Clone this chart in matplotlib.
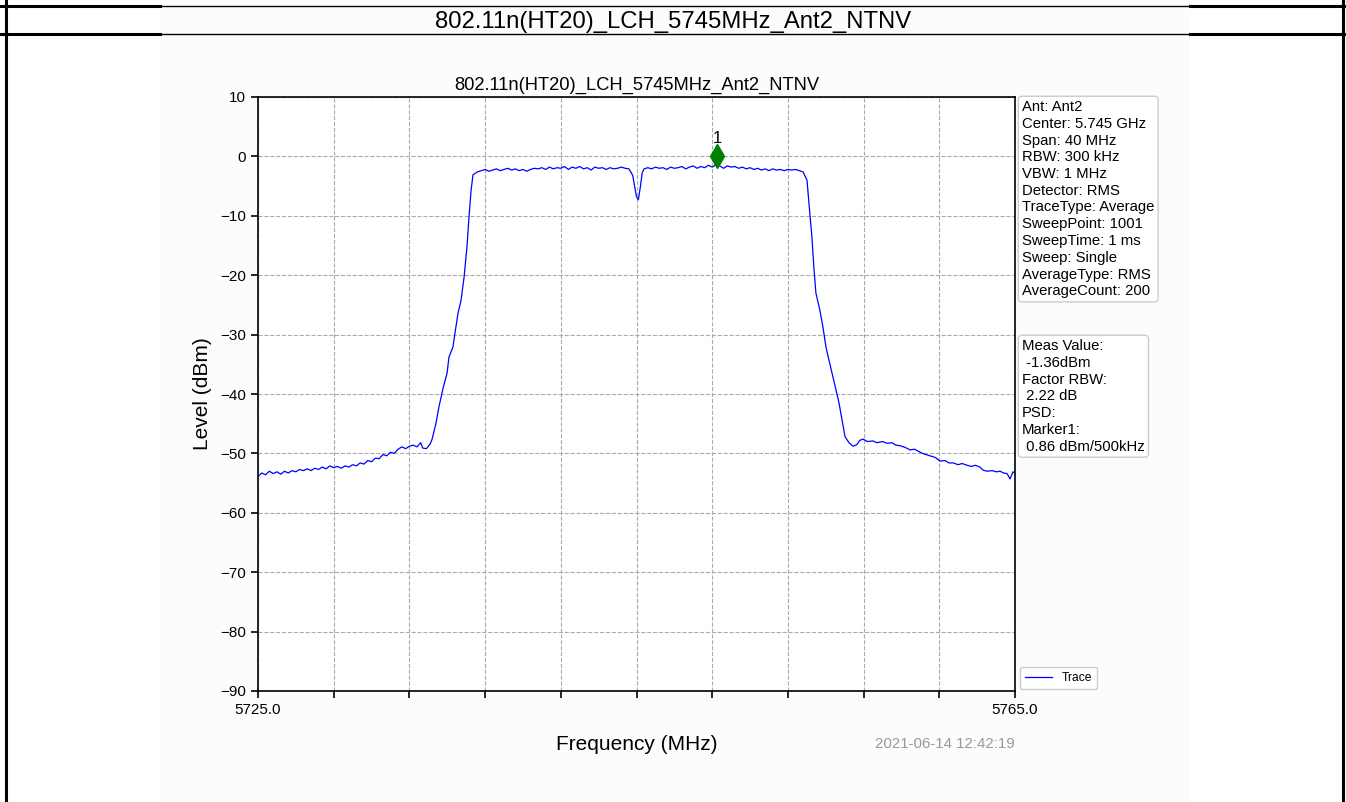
import numpy as np
import matplotlib
matplotlib.use('Agg')
import matplotlib.pyplot as plt
from matplotlib.lines import Line2D
from matplotlib.patches import Rectangle

plt.rcParams['font.family'] = ['Liberation Sans', 'DejaVu Sans']

title = '802.11n(HT20)_LCH_5745MHz_Ant2_NTNV'
timestamp = '2021-06-14 12:42:19'

# Trace (MHz, dBm)
freq = [
    5725.0, 5725.2, 5725.4, 5725.6, 5725.8, 5726.0, 5726.2, 5726.4, 5726.6, 5726.8,
    5727.0, 5727.2, 5727.4, 5727.6, 5727.8, 5728.0, 5728.2, 5728.4, 5728.6, 5728.8,
    5729.0, 5729.2, 5729.4, 5729.6, 5729.8, 5730.0, 5730.2, 5730.4, 5730.6, 5730.8,
    5731.0, 5731.2, 5731.4, 5731.6, 5731.8, 5732.0, 5732.2, 5732.4, 5732.6, 5732.8,
    5733.0, 5733.2, 5733.4, 5733.6, 5733.7, 5733.9, 5734.1, 5734.2, 5734.4, 5734.56,
    5734.78, 5734.99, 5735.09, 5735.3, 5735.41, 5735.57, 5735.73, 5735.89, 5736.04, 5736.15,
    5736.26, 5736.36, 5736.6, 5736.8,
    5737.0, 5737.2, 5737.4, 5737.6, 5737.8, 5738.0, 5738.2, 5738.4, 5738.6, 5738.8,
    5739.0, 5739.2, 5739.4, 5739.6, 5739.8, 5740.0, 5740.2, 5740.4, 5740.6, 5740.8,
    5741.0, 5741.2, 5741.4, 5741.6, 5741.8, 5742.0, 5742.2, 5742.4, 5742.6, 5742.8,
    5743.0, 5743.2, 5743.4, 5743.6, 5743.8, 5744.0, 5744.2, 5744.4, 5744.6, 5744.8,
    5744.9, 5745.0, 5745.1, 5745.2, 5745.3, 5745.4, 5745.6, 5745.8, 5746.0, 5746.2,
    5746.4, 5746.6, 5746.8, 5747.0, 5747.2, 5747.4, 5747.6, 5747.8, 5748.0, 5748.2,
    5748.4, 5748.6, 5748.8, 5749.0, 5749.2, 5749.4, 5749.6, 5749.8, 5750.0, 5750.2,
    5750.4, 5750.6, 5750.8, 5751.0, 5751.2, 5751.4, 5751.6, 5751.8, 5752.0, 5752.2,
    5752.4, 5752.6, 5752.8, 5753.0, 5753.2, 5753.4, 5753.6, 5753.8,
    5754.01, 5754.11, 5754.27, 5754.37, 5754.48, 5754.69, 5754.85, 5755.01, 5755.17, 5755.38,
    5755.54, 5755.7, 5755.86, 5756.02, 5756.23, 5756.45, 5756.65, 5756.8, 5756.97, 5757.2,
    5757.5, 5757.7, 5758.0, 5758.24, 5758.5, 5758.7, 5758.92, 5759.2, 5759.45, 5759.7,
    5759.98, 5760.2, 5760.51, 5760.8, 5761.04, 5761.3, 5761.5, 5761.73, 5762.0, 5762.2,
    5762.47, 5762.7, 5762.9, 5763.15, 5763.3, 5763.52, 5763.8, 5764.0, 5764.21, 5764.4,
    5764.58, 5764.74, 5764.89, 5765.0,
]
level = [
    -53.9, -53.3, -53.6, -53.0, -53.4, -53.1, -53.5, -53.0, -53.3, -52.9,
    -53.1, -52.7, -52.9, -52.6, -52.9, -52.5, -52.7, -52.3, -52.6, -52.1,
    -52.4, -52.2, -52.5, -52.1, -52.3, -51.9, -52.1, -51.6, -51.8, -51.2,
    -51.4, -50.8, -50.9, -50.2, -50.4, -49.8, -50.0, -49.3, -48.9, -49.2,
    -48.8, -48.6, -48.9, -48.2, -49.1, -49.2, -48.4, -47.6, -45.0, -42.2,
    -39.0, -36.5, -33.8, -32.1, -29.7, -26.4, -24.2, -20.3, -15.3, -10.2,
    -5.7, -3.1, -2.6, -2.4,
    -2.2, -2.5, -2.3, -2.1, -2.4, -2.2, -2.0, -2.3, -2.1, -2.4,
    -2.2, -2.5, -2.2, -2.0, -2.1, -1.9, -2.2, -1.8, -2.1, -1.9,
    -2.0, -1.7, -2.2, -1.8, -2.0, -1.7, -2.1, -1.9, -2.3, -1.8,
    -2.0, -1.9, -2.2, -1.9, -2.1, -2.0, -1.8, -2.0, -2.1, -3.2,
    -5.0, -6.8, -7.3, -5.2, -2.8, -2.1, -1.9, -2.1, -1.8, -2.0,
    -1.9, -2.2, -1.8, -2.0, -1.9, -1.7, -2.1, -1.8, -1.6, -2.0,
    -1.7, -1.9, -1.5, -1.8, -1.4, -1.6, -2.0, -1.6, -1.8, -1.7,
    -2.0, -1.8, -2.1, -1.9, -2.2, -2.0, -2.3, -2.1, -2.4, -2.1,
    -2.3, -2.2, -2.4, -2.2, -2.3, -2.2, -2.4, -2.6,
    -4.0, -7.8, -13.6, -18.6, -23.0, -25.9, -28.7, -32.1, -34.3, -37.1,
    -39.3, -41.5, -44.4, -47.2, -48.2, -48.8, -48.5, -47.8, -47.6, -48.0,
    -47.9, -48.2, -48.0, -48.3, -48.2, -48.6, -48.7, -49.0, -49.4, -49.3,
    -49.8, -50.1, -50.4, -50.7, -51.3, -51.2, -51.6, -51.6, -51.9, -51.7,
    -52.0, -52.2, -52.0, -52.3, -52.8, -53.0, -52.9, -53.1, -53.0, -53.3,
    -53.4, -54.3, -53.1, -53.3,
]

marker_freq = 5749.25
marker_level = 0.1

info_text = ('Ant: Ant2\nCenter: 5.745 GHz\nSpan: 40 MHz\nRBW: 300 kHz\nVBW: 1 MHz\n'
             'Detector: RMS\nTraceType: Average\nSweepPoint: 1001\nSweepTime: 1 ms\n'
             'Sweep: Single\nAverageType: RMS\nAverageCount: 200')
meas_text = ('Meas Value:\n -1.36dBm\nFactor RBW:\n 2.22 dB\nPSD:\nMarker1:\n'
             ' 0.86 dBm/500kHz')

W, H = 1346, 802
fig = plt.figure(figsize=(W / 100, H / 100), dpi=100)

# light background of the embedded plot image
fig.patches.append(Rectangle((160 / W, 0), 1030 / W, 1, transform=fig.transFigure,
                             facecolor='#fcfcfc', edgecolor='none', zorder=-10))

# table frame
def hline(y, x0, x1, lw):
    fig.add_artist(Line2D([x0 / W, x1 / W], [1 - y / H, 1 - y / H], color='black', lw=lw))

for y in (6, 34):
    hline(y, 0, 160, 2.2)
    hline(y, 160, 1190, 1.0)
    hline(y, 1190, W, 2.2)
fig.add_artist(Line2D([6 / W, 6 / W], [0, 1], color='black', lw=2.2))
fig.add_artist(Line2D([1343 / W, 1343 / W], [0, 1], color='black', lw=2.2))

fig.text(673 / W, 1 - 22 / H, title, ha='center', va='center', fontsize=17.2)

ax = fig.add_axes([258 / W, 1 - 691 / H, 757 / W, 594 / H])
ax.plot(freq, level, color='blue', lw=0.9, label='Trace')
ax.plot([marker_freq], [marker_level], marker='d', color='green', markersize=12,
        linestyle='none')
ax.text(marker_freq, marker_level + 1.6, '1', ha='center', va='bottom', fontsize=12)

ax.set_xlim(5725, 5765)
ax.set_ylim(-90, 10)
xt = np.linspace(5725, 5765, 11)
ax.set_xticks(xt)
ax.set_xticklabels(['5725.0'] + [''] * 9 + ['5765.0'])
ax.set_yticks(np.arange(-90, 11, 10))
ax.tick_params(labelsize=11, length=5, width=1.2)
for s in ax.spines.values():
    s.set_linewidth(1.2)
ax.grid(True, linestyle='--', color='#aaaaaa', lw=0.8)
ax.set_title(title, fontsize=13.2, pad=5)
ax.set_xlabel('Frequency (MHz)', fontsize=15, labelpad=13)
ax.set_ylabel('Level (dBm)', fontsize=15, labelpad=6)

ax.legend(loc='lower left', bbox_to_anchor=(1.003, 0.0), fontsize=8.7, handlelength=2.3,
          framealpha=1, edgecolor='#cccccc', borderaxespad=0.2)

box = dict(boxstyle='round,pad=0.25', facecolor='white', edgecolor='#cccccc')
fig.text(1022 / W, 1 - 100 / H, info_text, ha='left', va='top', fontsize=10.7,
         linespacing=1.25, bbox=box)
fig.text(1022 / W, 1 - 339 / H, meas_text, ha='left', va='top', fontsize=10.7,
         linespacing=1.25, bbox=box)

fig.text(1015 / W, 1 - 744 / H, timestamp, ha='right', va='center', fontsize=10.8,
         color='#999999')

fig.savefig('out.png', dpi=100)
